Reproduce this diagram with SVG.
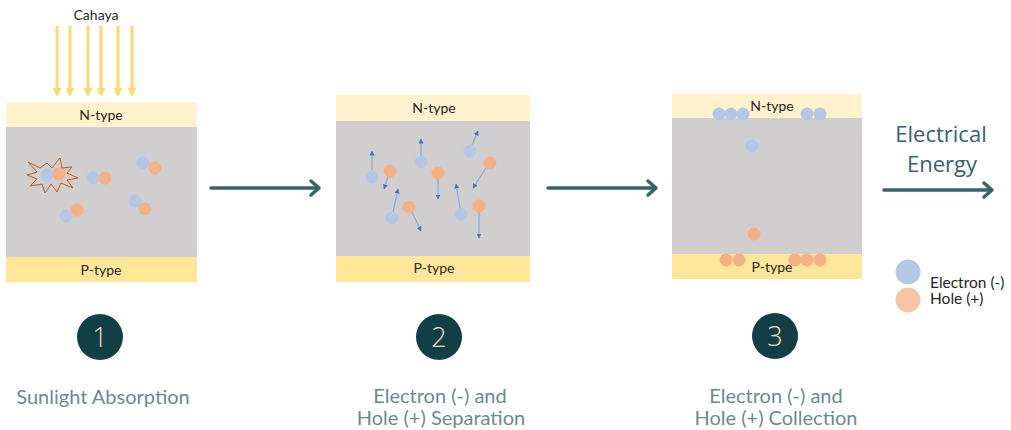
<svg xmlns="http://www.w3.org/2000/svg" width="1011" height="430" viewBox="0 0 1011 430">
  <style>
    .n { fill: #fff2cc; }
    .g { fill: #d0cece; }
    .p { fill: #ffe699; }
    .lbl { font-family: Lato, "Open Sans", sans-serif; font-size: 14px; fill: #262626; text-anchor: middle; }
    .e { fill: #b4c7e7; }
    .h { fill: #f4b183; }
    .mv { stroke: #8faadc; stroke-width: 1.3; fill: none; marker-end: url(#tip); }
    .ray { stroke: #ffd966; stroke-width: 3; marker-end: url(#rayhead); }
    .flow { stroke: #36626b; stroke-width: 3.5; fill: none; stroke-linecap: round; }
    .head { stroke: #36626b; stroke-width: 3.5; fill: none; stroke-linecap: round; stroke-linejoin: round; }
    .badge { fill: #123f45; }
    .num { font-family: "Open Sans", sans-serif; font-weight: 300; font-size: 27px; fill: #eadfc9; text-anchor: middle; }
    .step { font-family: Lato, "Open Sans", sans-serif; font-weight: 400; font-size: 20px; fill: #6a8a91; text-anchor: middle; }
    .big { font-family: "Open Sans", sans-serif; font-size: 22px; fill: #36626b; text-anchor: middle; }
    .leg { font-family: Lato, "Open Sans", sans-serif; font-size: 15.5px; fill: #262626; }
  </style>
  <defs>
    <marker id="tip" viewBox="0 0 10 10" refX="9" refY="5" markerWidth="5" markerHeight="5" markerUnits="userSpaceOnUse" orient="auto">
      <path d="M0,0 L10,5 L0,10 Z" fill="#4472c4"/>
    </marker>
    <marker id="rayhead" viewBox="0 0 10 10" refX="8" refY="5" markerWidth="3" markerHeight="3" orient="auto">
      <path d="M0,0 L10,5 L0,10 Z" fill="#ffd966"/>
    </marker>
  </defs>

  <rect width="1011" height="430" fill="#ffffff"/>

  <!-- incoming light -->
  <g id="light">
    <text class="lbl" x="96" y="20">Cahaya</text>
    <line class="ray" x1="57" y1="26" x2="57" y2="95"/>
    <line class="ray" x1="70" y1="26" x2="70" y2="95"/>
    <line class="ray" x1="88" y1="26" x2="88" y2="95"/>
    <line class="ray" x1="101" y1="26" x2="101" y2="95"/>
    <line class="ray" x1="118" y1="26" x2="118" y2="95"/>
    <line class="ray" x1="132" y1="26" x2="132" y2="95"/>
  </g>

  <!-- cell 1: absorption -->
  <g id="panel1">
    <rect class="n" x="6" y="102" width="191" height="25"/>
    <rect class="g" x="6" y="127" width="191" height="130"/>
    <rect class="p" x="6" y="257" width="191" height="25"/>
    <text class="lbl" x="101" y="120">N-type</text>
    <text class="lbl" x="101" y="275">P-type</text>
    <polygon points="28,162 40,168 47,163 52,168 60,158 62,168 72,167 67,173 78,178 67,180 73,188 61,183 57,192 51,184 45,193 42,184 30,186 37,179 27,175 37,172" fill="none" stroke="#c55a11" stroke-width="1" stroke-linejoin="miter"/>
    <circle class="e" cx="47" cy="175" r="6.5"/>
    <circle class="h" cx="59" cy="174" r="6.5"/>
    <circle class="e" cx="93" cy="178" r="6.5"/>
    <circle class="h" cx="105" cy="178" r="6.5"/>
    <circle class="e" cx="143" cy="163" r="6.5"/>
    <circle class="h" cx="155" cy="168" r="6.5"/>
    <circle class="e" cx="66" cy="216" r="6.5"/>
    <circle class="h" cx="77" cy="210" r="6.5"/>
    <circle class="e" cx="135" cy="201" r="6.5"/>
    <circle class="h" cx="145" cy="209" r="6.5"/>
  </g>

  <!-- cell 2: separation -->
  <g id="panel2">
    <rect class="n" x="336" y="95" width="194" height="26"/>
    <rect class="g" x="336" y="121" width="194" height="135"/>
    <rect class="p" x="336" y="256" width="194" height="26"/>
    <text class="lbl" x="434" y="113">N-type</text>
    <text class="lbl" x="434" y="273">P-type</text>
    <line class="mv" x1="372" y1="171" x2="372" y2="151"/>
    <line class="mv" x1="388" y1="177" x2="384" y2="189"/>
    <line class="mv" x1="421" y1="156" x2="421" y2="139"/>
    <line class="mv" x1="438" y1="179" x2="438" y2="199"/>
    <line class="mv" x1="472" y1="145" x2="478" y2="131"/>
    <line class="mv" x1="486" y1="168" x2="473" y2="188"/>
    <line class="mv" x1="393" y1="212" x2="398" y2="189"/>
    <line class="mv" x1="412" y1="212" x2="421" y2="231"/>
    <line class="mv" x1="460" y1="208" x2="456" y2="184"/>
    <line class="mv" x1="479" y1="212" x2="479" y2="238"/>
    <circle class="e" cx="372" cy="177" r="6.5"/>
    <circle class="h" cx="390" cy="171" r="6.5"/>
    <circle class="e" cx="421" cy="162" r="6.5"/>
    <circle class="h" cx="438" cy="173" r="6.5"/>
    <circle class="e" cx="470" cy="151" r="6.5"/>
    <circle class="h" cx="490" cy="163" r="6.5"/>
    <circle class="e" cx="392" cy="218" r="6.5"/>
    <circle class="h" cx="409" cy="207" r="6.5"/>
    <circle class="e" cx="461" cy="214" r="6.5"/>
    <circle class="h" cx="479" cy="206" r="6.5"/>
  </g>

  <!-- cell 3: collection -->
  <g id="panel3">
    <rect class="n" x="672" y="94" width="190" height="24"/>
    <rect class="g" x="672" y="118" width="190" height="136"/>
    <rect class="p" x="672" y="254" width="190" height="25"/>
    <text class="lbl" x="772" y="111">N-type</text>
    <text class="lbl" x="772" y="272">P-type</text>
    <circle class="e" cx="719" cy="114" r="6.5"/>
    <circle class="e" cx="731" cy="114" r="6.5"/>
    <circle class="e" cx="743" cy="114" r="6.5"/>
    <circle class="e" cx="807" cy="114" r="6.5"/>
    <circle class="e" cx="820" cy="114" r="6.5"/>
    <circle class="e" cx="752" cy="146" r="6.5"/>
    <circle class="h" cx="754" cy="234" r="6.5"/>
    <circle class="h" cx="726" cy="260" r="6.5"/>
    <circle class="h" cx="739" cy="260" r="6.5"/>
    <circle class="h" cx="795" cy="260" r="6.5"/>
    <circle class="h" cx="807" cy="260" r="6.5"/>
    <circle class="h" cx="820" cy="260" r="6.5"/>
  </g>

  <!-- output label -->
  <g id="energy">
    <text class="big" x="941" y="142">Electrical<tspan x="942" y="172">Energy</tspan></text>
  </g>

  <!-- legend -->
  <g id="legend">
    <circle cx="908" cy="272" r="12.5" fill="#b4c7e7"/>
    <circle cx="908" cy="300" r="12.5" fill="#f8c6a4"/>
    <text class="leg" x="930" y="288">Electron (-)</text>
    <text class="leg" x="930" y="304">Hole (+)</text>
  </g>

  <!-- step badges and captions -->
  <g id="step1">
    <circle class="badge" cx="100" cy="337" r="23"/>
    <text class="num" x="100" y="347">1</text>
    <text class="step" x="103" y="404">Sunlight Absorption</text>
  </g>
  <g id="step2">
    <circle class="badge" cx="439" cy="337" r="23"/>
    <text class="num" x="439" y="347">2</text>
    <text class="step" x="440" y="403">Electron (-) and<tspan x="441" y="425">Hole (+) Separation</tspan></text>
  </g>
  <g id="step3">
    <circle class="badge" cx="775" cy="336" r="23"/>
    <text class="num" x="775" y="346">3</text>
    <text class="step" x="776" y="403">Electron (-) and<tspan x="776" y="425">Hole (+) Collection</tspan></text>
  </g>

  <!-- flow arrows -->
  <g id="connectors">
    <line class="flow" x1="211" y1="188" x2="318" y2="188"/>
    <polyline class="head" points="311,181 319,188 311,195"/>
    <line class="flow" x1="548" y1="188" x2="655" y2="188"/>
    <polyline class="head" points="648,181 656,188 648,195"/>
    <line class="flow" x1="884" y1="190" x2="991" y2="190"/>
    <polyline class="head" points="984,183 992,190 984,197"/>
  </g>
</svg>
